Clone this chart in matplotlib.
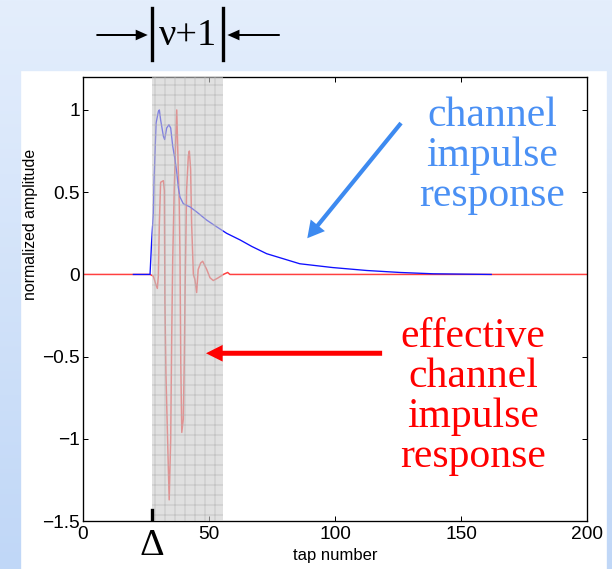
import numpy as np
import matplotlib
matplotlib.use('Agg')
import matplotlib.pyplot as plt
from matplotlib import transforms
from matplotlib.colors import LinearSegmentedColormap
from matplotlib.lines import Line2D
from matplotlib.patches import Rectangle, FancyArrowPatch

# channel impulse response (blue)
chan_x = [20, 26.6, 27.2, 27.9, 28.2, 29.0, 29.9, 30.3, 30.8, 31.9, 32.4, 33.2, 34.1, 34.8,
          35.6, 36.5, 37.2, 37.8, 38.5, 39.8, 42.5, 45.1, 49.1, 53.0, 57.0, 62.3, 67.0,
          72.9, 80.0, 86.0, 99.0, 112.6, 125.8, 139.0, 150.0, 162.0]
chan_y = [0, 0, 0.19, 0.37, 0.57, 0.92, 0.99, 1.0, 0.94, 0.84, 0.82, 0.89, 0.91, 0.89,
          0.78, 0.70, 0.62, 0.53, 0.47, 0.43, 0.41, 0.38, 0.33, 0.29, 0.25, 0.21, 0.17,
          0.126, 0.093, 0.065, 0.042, 0.024, 0.012, 0.004, 0.002, 0.0]

# effective (shortened) channel impulse response (red)
eff_x = [0, 26.6, 27.9, 29.0, 29.5, 29.9, 30.3, 30.8, 31.9, 32.3, 32.5, 32.9, 33.6, 34.2,
         34.8, 35.2, 35.6, 36.2, 36.8, 37.2, 37.8, 38.2, 38.5, 38.8, 39.2, 39.8, 40.2,
         40.5, 41.1, 41.8, 42.2, 42.7, 43.1, 43.8, 44.4, 45.1, 45.7, 46.7, 47.5, 49.1,
         50.4, 51.7, 53.7, 55.7, 57.4, 58.3, 200]
eff_y = [0, 0, -0.01, -0.065, -0.085, -0.01, 0.31, 0.56, 0.57, 0.51, -0.16, -0.6, -1.02, -1.37,
         -1.0, -0.38, 0.09, 0.51, 0.82, 1.0, 0.64, 0.43, 0.09, -0.54, -0.96, -0.88, -0.52,
         -0.11, 0.51, 0.72, 0.75, 0.64, 0.31, 0.0, -0.03, -0.11, 0.03, 0.07, 0.08, 0.03,
         -0.02, -0.037, -0.02, 0.0, 0.012, 0.0, 0]

# shortened window: delta .. delta + nu
win_start, win_end = 27.4, 55.6

xticks = [0, 50, 100, 150, 200]
yticks = [-1.5, -1, -0.5, 0, 0.5, 1]
yticklabels = ['\u22121.5', '\u22121', '\u22120.5', '0', '0.5', '1']

plt.rcParams['font.family'] = ['Liberation Sans', 'DejaVu Sans']
plt.rcParams['hatch.linewidth'] = 0.6

W, H = 612, 569
dpi = 120
fig = plt.figure(figsize=(W / dpi, H / dpi), dpi=dpi)

# slide background
bg = fig.add_axes([0, 0, 1, 1], zorder=-10)
grad = np.linspace(0, 1, 256).reshape(-1, 1)
cmap = LinearSegmentedColormap.from_list('slide', ['#e4eefc', '#c0d7f7'])
bg.imshow(grad, aspect='auto', cmap=cmap, extent=[0, 1, 0, 1], origin='upper')
bg.axis('off')
fig.add_artist(Rectangle((22 / W, 0), (606 - 22) / W, (H - 72) / H,
                         transform=fig.transFigure, color='white', zorder=-5))

ax = fig.add_axes([83 / W, 1 - 521.25 / H, 504 / W, (521.25 - 77) / H])
ax.plot(eff_x, eff_y, color='#ff4040', lw=0.9, zorder=2)
ax.plot(chan_x, chan_y, color='#1010ff', lw=0.8, zorder=3)
ax.axvspan(win_start, win_end, facecolor=(0.8, 0.8, 0.8, 0.6),
           edgecolor=(0.7, 0.7, 0.7, 0.6), hatch='++', lw=0, zorder=4)
ax.axvline(win_start, 0, 0.025, color='k', lw=2, zorder=5)

ax.set_xlim(0, 200)
ax.set_ylim(-1.5, 1.2)
ax.set_xticks(xticks)
ax.set_yticks(yticks)
ax.set_yticklabels(yticklabels)
ax.tick_params(direction='in', top=True, right=True, length=3.2, width=0.6,
               labelsize=11.5, pad=2)
ax.tick_params(axis='x', pad=3)
for s in ax.spines.values():
    s.set_linewidth(0.8)
ax.set_xlabel('tap number', fontsize=10, labelpad=3)
ax.set_ylabel('normalized amplitude', fontsize=9.5)
ax.yaxis.set_label_coords(-0.089, 0.667)

serif = ['Liberation Serif', 'DejaVu Serif']
fig.text(492 / W, 1 - 156 / H, 'channel\nimpulse\nresponse', ha='center', va='center',
         color='#4a90f4', fontsize=25, family=serif, linespacing=1.05)
fig.text(473 / W, 1 - 397 / H, 'effective\nchannel\nimpulse\nresponse', ha='center',
         va='center', color='red', fontsize=25, family=serif, linespacing=1.05)

ax.annotate('', xy=(89.0, 0.22), xytext=(126.2, 0.92), zorder=6,
            arrowprops=dict(arrowstyle='simple,head_length=1.0,head_width=1.1,tail_width=0.25',
                            mutation_scale=10, color='#3d8af0', lw=0, shrinkA=0, shrinkB=0))
ax.annotate('', xy=(48.8, -0.479), xytext=(118.7, -0.479), zorder=6,
            arrowprops=dict(arrowstyle='simple,head_length=1.0,head_width=1.0,tail_width=0.3',
                            mutation_scale=10, color='red', lw=0, shrinkA=0, shrinkB=0))

# bracket over the window
blend = transforms.blended_transform_factory(ax.transData, fig.transFigure)
for xv in (win_start, win_end):
    fig.add_artist(Line2D([xv, xv], [1 - 8 / H, 1 - 60 / H], transform=blend, color='k', lw=2))
ya = 1 - 35 / H
for x0, x1 in ((4, win_start - 0.4), (79.4, win_end + 0.4)):
    fig.add_artist(FancyArrowPatch((x0, ya), (x1, ya), transform=blend,
                                   arrowstyle='simple,head_length=0.9,head_width=0.8,tail_width=0.15',
                                   mutation_scale=8, color='k', lw=0))
fig.text((win_start + win_end) / 2, 1 - 45 / H, '\u03bd+1', transform=blend, ha='center',
         va='baseline', fontsize=23, family=serif)
fig.text(win_start, 1 - 555 / H, '\u0394', transform=blend, ha='center', va='baseline',
         fontsize=23, family=serif)

fig.savefig('out.png', dpi=dpi)
